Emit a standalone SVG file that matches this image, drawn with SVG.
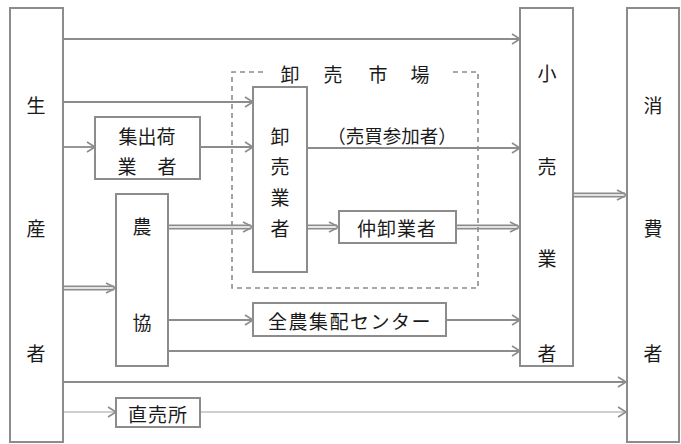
<svg xmlns="http://www.w3.org/2000/svg" width="681" height="444" viewBox="0 0 681 444">
<defs>
<style>
.box{fill:#fff;stroke:#8c8c8c;stroke-width:2}
.ln{fill:none;stroke:#8c8c8c;stroke-width:1.8}
.thin{fill:none;stroke:#a0a0a0;stroke-width:1.2}
.dbo{fill:none;stroke:#8c8c8c;stroke-width:5}
.dbi{fill:none;stroke:#fff;stroke-width:1.6}
.hd{fill:none;stroke:#8c8c8c;stroke-width:1.6}
.dash{fill:none;stroke:#8c8c8c;stroke-width:1.6;stroke-dasharray:5 4}
text{font-family:"Noto Sans CJK JP","Noto Sans CJK SC",sans-serif;font-size:19px;fill:#1a1a1a;text-anchor:middle;dominant-baseline:central}
</style>
<marker id="ah" markerUnits="userSpaceOnUse" markerWidth="12" markerHeight="12" refX="10" refY="6" orient="auto" viewBox="0 0 12 12">
<path d="M2,1 L10,6 L2,11" fill="none" stroke="#8c8c8c" stroke-width="1.6"/>
</marker>
</defs>
<rect width="681" height="444" fill="#fff"/>

<g id="connectors">
<line class="ln" x1="63" y1="39" x2="520" y2="39" marker-end="url(#ah)"/>
<line class="ln" x1="63" y1="102" x2="253" y2="102" marker-end="url(#ah)"/>
<line class="ln" x1="63" y1="147" x2="95" y2="147" marker-end="url(#ah)"/>
<line class="ln" x1="200" y1="147" x2="253" y2="147" marker-end="url(#ah)"/>
<line class="ln" x1="307" y1="148" x2="520" y2="148" marker-end="url(#ah)"/>
<line class="ln" x1="168" y1="320" x2="253" y2="320" marker-end="url(#ah)"/>
<line class="ln" x1="446" y1="320" x2="520" y2="320" marker-end="url(#ah)"/>
<line class="ln" x1="168" y1="351" x2="520" y2="351" marker-end="url(#ah)"/>
<line class="ln" x1="63" y1="382" x2="626" y2="382" marker-end="url(#ah)"/>
<line class="thin" x1="63" y1="412" x2="116" y2="412" marker-end="url(#ah)"/>
<line class="thin" x1="200" y1="412" x2="626" y2="412" marker-end="url(#ah)"/>
<g>
<line class="dbo" x1="63" y1="288" x2="114" y2="288"/><line class="dbi" x1="62" y1="288" x2="115" y2="288"/>
<path class="hd" d="M106,283 L116,288 L106,293"/>
</g>
<g>
<line class="dbo" x1="168" y1="227" x2="251" y2="227"/><line class="dbi" x1="168" y1="227" x2="252" y2="227"/>
<path class="hd" d="M243,222 L253,227 L243,232"/>
</g>
<g>
<line class="dbo" x1="307" y1="227" x2="337" y2="227"/><line class="dbi" x1="308" y1="227" x2="338" y2="227"/>
<path class="hd" d="M329,222 L339,227 L329,232"/>
</g>
<g>
<line class="dbo" x1="456" y1="227" x2="518" y2="227"/><line class="dbi" x1="457" y1="227" x2="519" y2="227"/>
<path class="hd" d="M510,222 L520,227 L510,232"/>
</g>
<g>
<line class="dbo" x1="573" y1="195" x2="625" y2="195"/><line class="dbi" x1="574" y1="195" x2="626" y2="195"/>
<path class="hd" d="M617,190 L627,195 L617,200"/>
</g>
</g>

<g id="market">
<path class="dash" d="M263,72 L232,72 L232,288 L478,288 L478,72 L450,72"/>
<text x="290 333 378 420" y="73">卸売市場</text>
</g>

<g id="producer">
<rect class="box" x="10" y="8" width="53" height="434"/>
<text x="36" y="104">生</text>
<text x="36" y="227">産</text>
<text x="36" y="352">者</text>
</g>

<g id="shukka">
<rect class="box" x="95" y="117" width="105" height="62"/>
<text x="147" y="135">集出荷</text>
<text x="127 167" y="165">業者</text>
</g>

<g id="nokyo">
<rect class="box" x="116" y="194" width="52" height="172"/>
<text x="142" y="225">農</text>
<text x="142" y="321">協</text>
</g>

<g id="oroshi">
<rect class="box" x="253" y="87" width="54" height="185"/>
<text x="280" y="135">卸</text>
<text x="280" y="165">売</text>
<text x="280" y="196">業</text>
<text x="280" y="227">者</text>
</g>

<g id="label-baibai">
<text x="392" y="135" style="font-size:18.5px">（売買参加者）</text>
</g>

<g id="nakaoroshi">
<rect class="box" x="339" y="211" width="117" height="32"/>
<text x="397" y="227" style="letter-spacing:1px">仲卸業者</text>
</g>

<g id="zennoh">
<rect class="box" x="253" y="303" width="193" height="33"/>
<text x="350" y="320" style="letter-spacing:1.5px">全農集配センター</text>
</g>

<g id="chokubai">
<rect class="box" x="116" y="398" width="84" height="29"/>
<text x="158" y="413" style="letter-spacing:1px">直売所</text>
</g>

<g id="retail">
<rect class="box" x="520" y="8" width="53" height="358"/>
<text x="547" y="72">小</text>
<text x="547" y="165">売</text>
<text x="547" y="257">業</text>
<text x="547" y="352">者</text>
</g>

<g id="consumer">
<rect class="box" x="627" y="8" width="52" height="434"/>
<text x="653" y="104">消</text>
<text x="653" y="227">費</text>
<text x="653" y="352">者</text>
</g>
</svg>
